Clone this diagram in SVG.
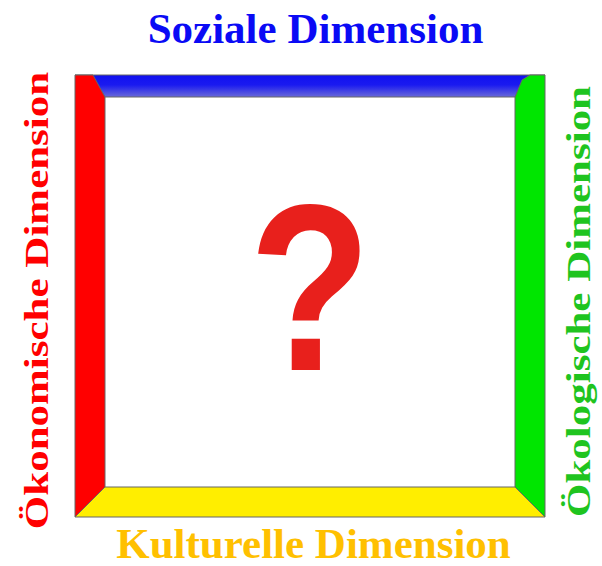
<svg xmlns="http://www.w3.org/2000/svg" width="602" height="566" viewBox="0 0 602 566">
<style>
.lbl{font-family:"Liberation Serif","Times New Roman",serif;font-weight:bold;font-size:43px;text-anchor:middle}
.band{stroke:#666;stroke-width:1;stroke-linejoin:miter}
</style>
<defs>
<linearGradient id="blueg" x1="0" y1="75" x2="0" y2="97" gradientUnits="userSpaceOnUse">
<stop offset="0" stop-color="#1010f0"/>
<stop offset="0.45" stop-color="#1a1af0"/>
<stop offset="1" stop-color="#6a6ad8"/>
</linearGradient>
</defs>
<rect width="602" height="566" fill="#ffffff"/>
<g id="frame">
<g id="top-band"><polygon class="band" points="75,75 545,75 515,97 105,97" fill="url(#blueg)"/></g>
<g id="left-band"><polygon class="band" points="75,75 93,75 105,97 105,487 75,517" fill="#ff0000"/></g>
<g id="right-band"><polygon class="band" points="545,75 545,517 515,487 515,97 522,80 530,75" fill="#00e600"/></g>
<g id="bottom-band"><polygon class="band" points="75,517 545,517 515,487 105,487" fill="#ffee00"/></g>
</g>
<g id="question">
<text x="310" y="370" font-family="'Liberation Sans',Arial,sans-serif" font-weight="bold" font-size="238" fill="#e8201c" text-anchor="middle" transform="translate(310,0) scale(0.84,1) translate(-310,0)">?</text>
</g>
<g id="label-top"><text class="lbl" x="315.5" y="43" fill="#0a0af5">Soziale Dimension</text></g>
<g id="label-bottom"><text class="lbl" x="313.5" y="558" fill="#ffc000">Kulturelle Dimension</text></g>
<g id="label-left"><text class="lbl" fill="#ff0000" transform="translate(48,300.5) scale(0.8,1) rotate(-90)">Ökonomische Dimension</text></g>
<g id="label-right"><text class="lbl" fill="#1fc41f" transform="translate(590,301.5) scale(0.8,1) rotate(-90)">Ökologische Dimension</text></g>
</svg>
